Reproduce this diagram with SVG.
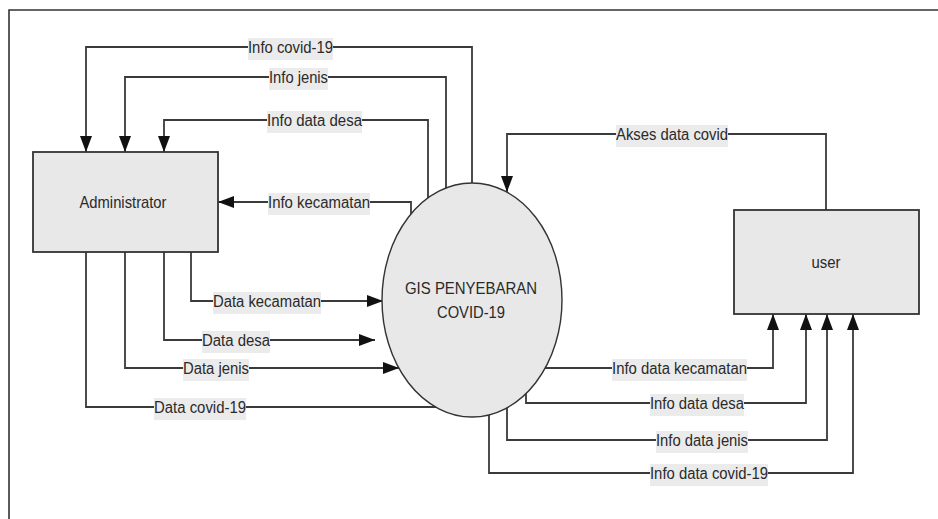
<svg xmlns="http://www.w3.org/2000/svg" width="938" height="519" viewBox="0 0 938 519">
  <style>
    .frame { fill: none; stroke: #333; stroke-width: 1.6; }
    .entity { fill: #e8e8e8; stroke: #333; stroke-width: 1.8; }
    .process { fill: #e8e8e8; stroke: #333; stroke-width: 1.4; }
    .flow { fill: none; stroke: #3a3a3a; stroke-width: 1.8; }
    .arrow { marker-end: url(#head); }
    .lblbg { fill: #ebebeb; }
    text { font-family: "Liberation Sans Narrow", "Liberation Sans", Arial, sans-serif; font-size: 16px; fill: #2a2a2a; }
    .lbl { text-anchor: middle; }
    .name { text-anchor: middle; font-size: 17px; }
  </style>
  <defs>
    <marker id="head" viewBox="0 0 16 12" refX="16" refY="6" markerWidth="16" markerHeight="12" markerUnits="userSpaceOnUse" orient="auto">
      <path d="M0,0 L16,6 L0,12 Z" fill="#111"/>
    </marker>
  </defs>

  <rect width="938" height="519" fill="#fff"/>
  <!-- page frame (open on the right and bottom) -->
  <path class="frame" d="M938,10 H9 V519"/>

  <!-- data flows -->
  <g id="connectors">
    <path class="flow arrow" d="M472,183 V47 H86 V152"/>
    <path class="flow arrow" d="M446,188 V77 H125 V152"/>
    <path class="flow arrow" d="M428,198 V120 H164 V152"/>
    <path class="flow arrow" d="M411,214 V202 H218"/>
    <path class="flow arrow" d="M191,252 V301 H383"/>
    <path class="flow arrow" d="M164,252 V340 H375"/>
    <path class="flow arrow" d="M125,252 V368 H399"/>
    <path class="flow" d="M86,252 V407 H437"/>
    <path class="flow arrow" d="M826,210 V134 H507 V192"/>
    <path class="flow arrow" d="M545,368 H773 V314"/>
    <path class="flow arrow" d="M526,394 V403 H806 V314"/>
    <path class="flow arrow" d="M507,408 V440 H827 V314"/>
    <path class="flow arrow" d="M489,415 V473 H853 V314"/>

    <!-- flow labels -->
    <g id="labels">
      <rect class="lblbg" x="248" y="38" width="85" height="22"/>
      <text class="lbl" x="290.5" y="53" textLength="85" lengthAdjust="spacingAndGlyphs">Info covid-19</text>
      <rect class="lblbg" x="269" y="68" width="59" height="22"/>
      <text class="lbl" x="298.5" y="83" textLength="59" lengthAdjust="spacingAndGlyphs">Info jenis</text>
      <rect class="lblbg" x="267" y="111" width="95" height="22"/>
      <text class="lbl" x="314.5" y="126" textLength="95" lengthAdjust="spacingAndGlyphs">Info data desa</text>
      <rect class="lblbg" x="268" y="193" width="102" height="22"/>
      <text class="lbl" x="319" y="208" textLength="102" lengthAdjust="spacingAndGlyphs">Info kecamatan</text>

      <rect class="lblbg" x="213" y="292" width="108" height="22"/>
      <text class="lbl" x="267" y="307" textLength="108" lengthAdjust="spacingAndGlyphs">Data kecamatan</text>
      <rect class="lblbg" x="202" y="331" width="68" height="22"/>
      <text class="lbl" x="236" y="346" textLength="68" lengthAdjust="spacingAndGlyphs">Data desa</text>
      <rect class="lblbg" x="183" y="359" width="66" height="22"/>
      <text class="lbl" x="216" y="374" textLength="66" lengthAdjust="spacingAndGlyphs">Data jenis</text>
      <rect class="lblbg" x="154" y="398" width="92" height="22"/>
      <text class="lbl" x="200" y="413" textLength="92" lengthAdjust="spacingAndGlyphs">Data covid-19</text>

      <rect class="lblbg" x="616" y="125" width="112" height="22"/>
      <text class="lbl" x="672" y="140" textLength="112" lengthAdjust="spacingAndGlyphs">Akses data covid</text>
      <rect class="lblbg" x="612" y="359" width="135" height="22"/>
      <text class="lbl" x="679.5" y="374" textLength="135" lengthAdjust="spacingAndGlyphs">Info data kecamatan</text>
      <rect class="lblbg" x="650" y="394" width="94" height="22"/>
      <text class="lbl" x="697" y="409" textLength="94" lengthAdjust="spacingAndGlyphs">Info data desa</text>
      <rect class="lblbg" x="656" y="431" width="92" height="22"/>
      <text class="lbl" x="702" y="446" textLength="92" lengthAdjust="spacingAndGlyphs">Info data jenis</text>
      <rect class="lblbg" x="650" y="464" width="118" height="22"/>
      <text class="lbl" x="709" y="479" textLength="118" lengthAdjust="spacingAndGlyphs">Info data covid-19</text>
    </g>
  </g>

  <!-- external entity: Administrator -->
  <g id="administrator">
    <rect class="entity" x="33" y="152" width="185" height="100"/>
    <text class="name" x="123" y="208" textLength="87" lengthAdjust="spacingAndGlyphs">Administrator</text>
  </g>

  <!-- process -->
  <g id="gis-process">
    <ellipse class="process" cx="472" cy="300" rx="90" ry="117"/>
    <text class="name" x="471" y="294" textLength="132" lengthAdjust="spacingAndGlyphs">GIS PENYEBARAN</text>
    <text class="name" x="471" y="318" textLength="68" lengthAdjust="spacingAndGlyphs">COVID-19</text>
  </g>

  <!-- external entity: user -->
  <g id="user">
    <rect class="entity" x="734" y="210" width="185" height="104"/>
    <text class="name" x="826" y="268" textLength="29" lengthAdjust="spacingAndGlyphs">user</text>
  </g>
</svg>
